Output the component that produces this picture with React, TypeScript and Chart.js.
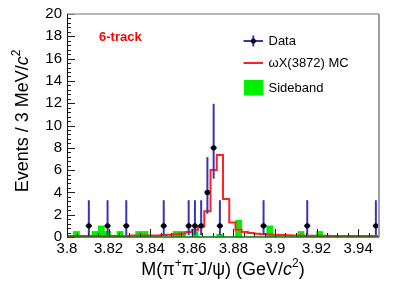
import React, { useEffect, useRef } from 'react';
import { Chart, registerables } from 'chart.js';

Chart.register(...registerables);

// ---------- data ----------
const X_MIN = 3.8;
const X_MAX = 3.95;
const BIN_WIDTH = 0.003;
const Y_MIN = 0;
const Y_MAX = 20;

const xTickValues = [3.8, 3.82, 3.84, 3.86, 3.88, 3.9, 3.92, 3.94];
const xTickLabels = ['3.8', '3.82', '3.84', '3.86', '3.88', '3.9', '3.92', '3.94'];
const yTickValues = [0, 2, 4, 6, 8, 10, 12, 14, 16, 18, 20];
const yTickLabels = ['0', '2', '4', '6', '8', '10', '12', '14', '16', '18', '20'];
const X_MINOR_STEP = 0.005;
const Y_MINOR_STEP = 0.4;

// Data points (bin centres), counts and Poisson errors
const dataX = [3.8105, 3.8195, 3.8285, 3.8465, 3.8585, 3.8615, 3.8645, 3.8675, 3.8705, 3.8735, 3.8945, 3.9155, 3.9485];
const dataY = [1, 1, 1, 1, 1, 1, 1, 4, 8, 1, 1, 1, 1];
const dataErrLow = [0.827, 0.827, 0.827, 0.827, 0.827, 0.827, 0.827, 1.914, 2.769, 0.827, 0.827, 0.827, 0.827];
const dataErrHigh = [2.299, 2.299, 2.299, 2.299, 2.299, 2.299, 2.299, 3.162, 3.945, 2.299, 2.299, 2.299, 2.299];

// omega X(3872) MC histogram (50 bins of 3 MeV)
const mcValues = [
  0.1, 0.1, 0.1, 0.1, 0.1, 0.1, 0.1, 0.1, 0.1, 0.1,
  0.13, 0.13, 0.13, 0.13, 0.13, 0.18, 0.2, 0.25, 0.32, 0.45,
  0.65, 0.95, 2.3, 6.0, 7.35, 3.4, 1.3, 0.65, 0.45, 0.35,
  0.3, 0.25, 0.22, 0.2, 0.18, 0.16, 0.14, 0.13, 0.12, 0.12,
  0.11, 0.11, 0.1, 0.1, 0.1, 0.1, 0.1, 0.1, 0.1, 0.1,
];

// Sideband histogram (50 bins of 3 MeV)
const sidebandValues = [
  0, 0.5, 0, 0, 0.5, 1.0, 0.5, 0, 0.5, 0,
  0, 0.5, 0.5, 0, 0, 0, 0, 0.5, 0.5, 0,
  0.5, 0, 0, 0, 0.25, 0, 0, 1.5, 0, 0,
  0, 0, 1.0, 0.2, 0, 0, 0, 0.5, 0, 0,
  0.5, 0, 0, 0, 0, 0, 0, 0, 0, 0,
];

// ---------- styles ----------
const FONT = "'Liberation Sans', Arial, Helvetica, sans-serif";
const ERR_COLOR = '#3636b4';
const MC_COLOR = '#ff2222';
const SB_COLOR = '#00f000';
const FRAME_GRAY = '#a0a0a0';
const DATA_INDEX = 2;

function histPoints(values: number[]) {
  const pts = values.map((v, i) => ({ x: X_MIN + i * BIN_WIDTH, y: v }));
  pts.push({ x: X_MAX, y: values[values.length - 1] });
  return pts;
}

function binCentrePoints(values: number[]) {
  return values.map((v, i) => ({ x: X_MIN + (i + 0.5) * BIN_WIDTH, y: v }));
}

type Part = { t: string; italic?: boolean; sup?: boolean };

function drawRich(ctx: CanvasRenderingContext2D, parts: Part[], size: number, x: number, y: number) {
  const fontFor = (p: Part) => `${p.italic ? 'italic ' : ''}${p.sup ? Math.round(size * 0.68) : size}px ${FONT}`;
  let total = 0;
  parts.forEach((p) => {
    ctx.font = fontFor(p);
    total += ctx.measureText(p.t).width;
  });
  let cx = x - total / 2;
  ctx.textAlign = 'left';
  ctx.textBaseline = 'alphabetic';
  parts.forEach((p) => {
    ctx.font = fontFor(p);
    ctx.fillText(p.t, cx, p.sup ? y - size * 0.42 : y);
    cx += ctx.measureText(p.t).width;
  });
}

const rootStyle = {
  id: 'rootStyle',
  beforeDatasetDraw(chart: any, args: any) {
    if (args.index !== DATA_INDEX) return;
    const { ctx } = chart;
    const x = chart.scales.x;
    const y = chart.scales.y;
    ctx.save();
    ctx.strokeStyle = ERR_COLOR;
    ctx.lineWidth = 2;
    dataX.forEach((xv, i) => {
      const px = x.getPixelForValue(xv);
      const yTop = y.getPixelForValue(dataY[i] + dataErrHigh[i]);
      const yBot = y.getPixelForValue(dataY[i] - dataErrLow[i]);
      ctx.beginPath();
      ctx.moveTo(px, yTop);
      ctx.lineTo(px, yBot);
      ctx.stroke();
      const py = y.getPixelForValue(dataY[i]);
      ctx.beginPath();
      ctx.moveTo(x.getPixelForValue(xv - BIN_WIDTH / 2), py);
      ctx.lineTo(x.getPixelForValue(xv + BIN_WIDTH / 2), py);
      ctx.stroke();
    });
    ctx.restore();
  },
  afterDatasetsDraw(chart: any) {
    const { ctx, chartArea: a } = chart;
    const x = chart.scales.x;
    const y = chart.scales.y;
    ctx.save();
    // ticks
    ctx.strokeStyle = '#222';
    ctx.lineWidth = 1;
    const nx = Math.round((X_MAX - X_MIN) / X_MINOR_STEP);
    for (let i = 0; i <= nx; i++) {
      const v = X_MIN + i * X_MINOR_STEP;
      const major = xTickValues.some((t) => Math.abs(t - v) < 1e-6);
      const px = Math.round(x.getPixelForValue(v)) + 0.5;
      ctx.beginPath();
      ctx.moveTo(px, a.bottom);
      ctx.lineTo(px, a.bottom - (major ? 8 : 4));
      ctx.stroke();
    }
    const ny = Math.round((Y_MAX - Y_MIN) / Y_MINOR_STEP);
    for (let i = 0; i <= ny; i++) {
      const v = Y_MIN + i * Y_MINOR_STEP;
      const major = yTickValues.some((t) => Math.abs(t - v) < 1e-6);
      const py = Math.round(y.getPixelForValue(v)) + 0.5;
      ctx.beginPath();
      ctx.moveTo(a.left, py);
      ctx.lineTo(a.left + (major ? 8 : 4), py);
      ctx.stroke();
    }
    // frame
    ctx.strokeStyle = FRAME_GRAY;
    ctx.lineWidth = 1.5;
    ctx.beginPath();
    ctx.moveTo(a.left, a.top);
    ctx.lineTo(a.right, a.top);
    ctx.stroke();
    ctx.lineWidth = 2;
    ctx.beginPath();
    ctx.moveTo(a.right, a.top);
    ctx.lineTo(a.right, a.bottom);
    ctx.stroke();
    ctx.strokeStyle = '#111';
    ctx.lineWidth = 1;
    ctx.beginPath();
    ctx.moveTo(a.left + 0.5, a.top);
    ctx.lineTo(a.left + 0.5, a.bottom);
    ctx.stroke();
    ctx.strokeStyle = '#1a6e1a';
    ctx.lineWidth = 1.5;
    ctx.beginPath();
    ctx.moveTo(a.left, a.bottom);
    ctx.lineTo(a.right, a.bottom);
    ctx.stroke();
    ctx.restore();
  },
  afterDraw(chart: any) {
    const { ctx, chartArea: a } = chart;
    ctx.save();
    ctx.fillStyle = '#000';
    // x title
    drawRich(
      ctx,
      [
        { t: 'M(π' }, { t: '+', sup: true }, { t: 'π' }, { t: '-', sup: true },
        { t: 'J/ψ) (GeV/' }, { t: 'c', italic: true }, { t: '2', sup: true }, { t: ')' },
      ],
      18,
      (a.left + a.right) / 2,
      275
    );
    // y title
    ctx.save();
    ctx.translate(27.5, 121);
    ctx.rotate(-Math.PI / 2);
    drawRich(ctx, [{ t: 'Events / 3 MeV/' }, { t: 'c', italic: true }, { t: '2', sup: true }], 18, 0, 0);
    ctx.restore();

    // 6-track label
    ctx.fillStyle = '#ff0000';
    ctx.font = `bold 13px ${FONT}`;
    ctx.textAlign = 'left';
    ctx.textBaseline = 'middle';
    ctx.fillText('6-track', 99, 37.5);

    // legend
    ctx.strokeStyle = ERR_COLOR;
    ctx.lineWidth = 2;
    ctx.beginPath();
    ctx.moveTo(243.5, 41);
    ctx.lineTo(263, 41);
    ctx.moveTo(253.3, 35.5);
    ctx.lineTo(253.3, 46.5);
    ctx.stroke();
    ctx.fillStyle = '#000';
    ctx.beginPath();
    ctx.arc(253.3, 41, 2.5, 0, Math.PI * 2);
    ctx.fill();

    ctx.strokeStyle = MC_COLOR;
    ctx.lineWidth = 2;
    ctx.beginPath();
    ctx.moveTo(243.5, 63);
    ctx.lineTo(263, 63);
    ctx.stroke();

    ctx.fillStyle = SB_COLOR;
    ctx.fillRect(244, 80, 19.5, 15.5);

    ctx.fillStyle = '#000';
    ctx.font = `13px ${FONT}`;
    ctx.textBaseline = 'middle';
    ctx.fillText('Data', 268.5, 41);
    ctx.fillText('ωX(3872) MC', 268.5, 63.5);
    ctx.fillText('Sideband', 268.5, 88);
    ctx.restore();
  },
};

export default function App() {
  const ref = useRef<HTMLCanvasElement>(null);
  useEffect(() => {
    document.body.style.margin = '0';
    Chart.defaults.font.family = FONT;
    const canvas = ref.current!;
    const chart = new Chart(canvas, {
      type: 'line',
      data: {
        datasets: [
          {
            type: 'bar',
            label: 'Sideband',
            data: binCentrePoints(sidebandValues),
            backgroundColor: SB_COLOR,
            borderWidth: 0,
            barPercentage: 1,
            categoryPercentage: 1,
            grouped: false,
            order: 3,
          },
          {
            label: 'ωX(3872) MC',
            data: histPoints(mcValues),
            stepped: true,
            fill: false,
            borderColor: MC_COLOR,
            borderWidth: 2,
            pointRadius: 0,
            order: 2,
          },
          {
            label: 'Data',
            data: dataX.map((xv, i) => ({ x: xv, y: dataY[i] })),
            showLine: false,
            pointRadius: 2.6,
            pointBackgroundColor: '#000',
            pointBorderColor: '#000',
            pointBorderWidth: 0,
            order: 1,
          },
        ],
      } as any,
      options: {
        animation: false,
        responsive: false,
        devicePixelRatio: 1,
        layout: { padding: { left: 0, top: 14, right: 20, bottom: 0 } },
        plugins: { legend: { display: false }, tooltip: { enabled: false } },
        events: [],
        scales: {
          x: {
            type: 'linear',
            min: X_MIN,
            max: X_MAX,
            offset: false,
            afterBuildTicks: (s: any) => {
              s.ticks = xTickValues.map((v) => ({ value: v }));
            },
            afterFit: (s: any) => {
              s.height = 49;
            },
            ticks: {
              callback: (_v: any, i: number) => xTickLabels[i],
              autoSkip: false,
              maxRotation: 0,
              color: '#000',
              padding: 3,
              font: { size: 15, family: FONT },
            },
            grid: { display: false, drawTicks: false, offset: false },
            border: { display: false },
          },
          y: {
            type: 'linear',
            min: Y_MIN,
            max: Y_MAX,
            afterBuildTicks: (s: any) => {
              s.ticks = yTickValues.map((v) => ({ value: v }));
            },
            afterFit: (s: any) => {
              s.width = 67;
            },
            ticks: {
              callback: (_v: any, i: number) => yTickLabels[i],
              autoSkip: false,
              color: '#000',
              padding: 5,
              font: { size: 15, family: FONT },
            },
            grid: { display: false, drawTicks: false },
            border: { display: false },
          },
        },
      } as any,
      plugins: [rootStyle],
    });
    return () => chart.destroy();
  }, []);
  return (
    <div style={{ width: 399, height: 286 }}>
      <canvas ref={ref} width={399} height={286} style={{ display: 'block' }} />
    </div>
  );
}
